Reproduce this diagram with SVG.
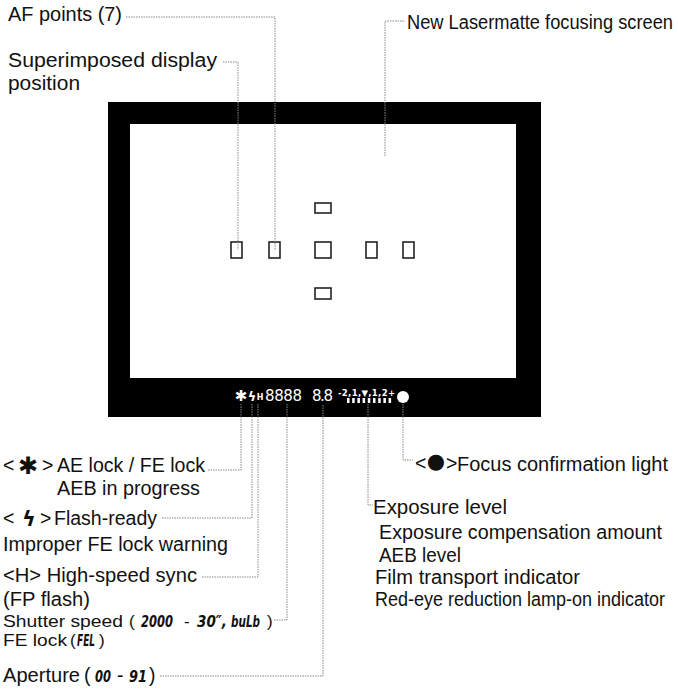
<svg xmlns="http://www.w3.org/2000/svg" width="678" height="695" viewBox="0 0 678 695">
<style>
.t{font-family:"Liberation Sans",Arial,sans-serif;font-size:19.5px;fill:#111}
.b{font-family:"Liberation Sans",Arial,sans-serif;font-size:17px;fill:#111}
.sym{font-family:"DejaVu Sans",sans-serif;fill:#111}
.lcd{font-family:"DejaVu Sans",sans-serif;font-style:italic;font-weight:bold;font-size:15px;fill:#111}
.c{fill:none;stroke:#888;stroke-width:1;stroke-dasharray:1.5 1}
.af{fill:none;stroke:#222;stroke-width:1.6}
.w{fill:#fff;font-family:"DejaVu Sans",sans-serif}
</style>
<rect width="678" height="695" fill="#fff"/>
<g id="frame">
<rect x="108" y="102" width="433" height="315" fill="#000"/>
<rect x="130" y="124" width="386" height="254" fill="#fff"/>
</g>
<g id="af-points">
<rect class="af" x="315" y="203" width="16" height="10"/>
<rect class="af" x="231" y="242" width="11" height="16"/>
<rect class="af" x="269" y="242" width="11" height="16"/>
<rect class="af" x="315" y="242" width="16" height="16"/>
<rect class="af" x="366" y="242" width="11" height="16"/>
<rect class="af" x="403" y="242" width="11" height="16"/>
<rect class="af" x="315" y="288" width="16" height="11"/>
</g>
<g id="display">
<text class="w" x="241" y="401" font-size="15" font-weight="bold" text-anchor="middle">✱</text>
<text class="w" x="252" y="401" font-size="13" font-weight="bold" text-anchor="middle">ϟ</text>
<text class="w" x="260" y="400" font-size="8" font-weight="bold" text-anchor="middle">H</text>
<text class="w" x="265" y="401" font-size="15" font-family="DejaVu Sans Mono" textLength="37">8888</text>
<text class="w" x="312" y="401" font-size="15" font-family="DejaVu Sans Mono" textLength="21">8.8</text>
<text class="w" x="338" y="396" font-size="8.5" font-weight="bold" textLength="57">-2,1,▼,1,2+</text>
<g fill="#fff">
<rect x="347" y="398" width="2.5" height="5"/><rect x="352.2" y="398" width="2.5" height="5"/><rect x="357.4" y="398" width="2.5" height="5"/><rect x="362.6" y="398" width="2.5" height="5"/><rect x="367.8" y="398" width="2.5" height="5"/><rect x="373" y="398" width="2.5" height="5"/><rect x="378.2" y="398" width="2.5" height="5"/><rect x="383.4" y="398" width="2.5" height="5"/><rect x="388.6" y="398" width="2.5" height="5"/>
</g>
<circle cx="403" cy="397" r="6" fill="#fff"/>
</g>
<g id="connectors">
<polyline class="c" points="126,17 275,17 275,250"/>
<polyline class="c" points="223,62 238,62 238,250"/>
<polyline class="c" points="404,21 385,21 385,156"/>
<polyline class="c" points="208,470 241,470 241,404"/>
<polyline class="c" points="162,518 252,518 252,404"/>
<polyline class="c" points="202,577 258,577 258,404"/>
<polyline class="c" points="274,620 287,620 287,404"/>
<polyline class="c" points="160,676 323,676 323,404"/>
<polyline class="c" points="403,404 403,460 413,460"/>
<polyline class="c" points="368,404 368,505 373,505"/>
</g>
<g id="label-af"><text class="t" x="8" y="21" textLength="114" lengthAdjust="spacingAndGlyphs">AF points (7)</text></g>
<g id="label-superimposed"><text class="t" x="8" y="67" textLength="209" lengthAdjust="spacingAndGlyphs">Superimposed display</text><text class="t" x="8" y="90" textLength="72" lengthAdjust="spacingAndGlyphs">position</text></g>
<g id="label-screen"><text class="t" x="407" y="29" textLength="266" lengthAdjust="spacingAndGlyphs">New Lasermatte focusing screen</text></g>
<g id="label-ae">
<text class="t" x="3" y="472">&lt;</text><text class="sym" x="28" y="474" font-size="24" font-weight="bold" text-anchor="middle">✱</text><text class="t" x="42" y="472">&gt;</text>
<text class="t" x="57" y="472" textLength="148" lengthAdjust="spacingAndGlyphs">AE lock / FE lock</text>
<text class="t" x="57" y="495" textLength="143" lengthAdjust="spacingAndGlyphs">AEB in progress</text>
</g>
<g id="label-flash">
<text class="t" x="3" y="525">&lt;</text><text class="sym" x="29" y="526" font-size="21" font-weight="bold" text-anchor="middle">ϟ</text><text class="t" x="40" y="525">&gt;</text>
<text class="t" x="54" y="525" textLength="103" lengthAdjust="spacingAndGlyphs">Flash-ready</text>
<text class="t" x="3" y="551" textLength="225" lengthAdjust="spacingAndGlyphs">Improper FE lock warning</text>
</g>
<g id="label-h">
<text class="t" x="3" y="582" textLength="194" lengthAdjust="spacingAndGlyphs">&lt;H&gt; High-speed sync</text>
<text class="t" x="3" y="606" textLength="87" lengthAdjust="spacingAndGlyphs">(FP flash)</text>
</g>
<g id="label-shutter">
<text class="b" x="3" y="627" textLength="120" lengthAdjust="spacingAndGlyphs">Shutter speed</text><text class="b" x="129" y="627">(</text>
<text class="lcd" x="141" y="627" textLength="32" lengthAdjust="spacingAndGlyphs">2000</text><text class="b" x="184" y="627">-</text><text class="lcd" x="197" y="627" textLength="30" lengthAdjust="spacingAndGlyphs">30″,</text><text class="lcd" x="231" y="627" textLength="29" lengthAdjust="spacingAndGlyphs">buLb</text><text class="b" x="267" y="627">)</text>
<text class="b" x="3" y="646" textLength="64" lengthAdjust="spacingAndGlyphs">FE lock</text><text class="b" x="70" y="646">(</text><text class="lcd" x="77" y="646" font-size="14" textLength="18" lengthAdjust="spacingAndGlyphs">FEL</text><text class="b" x="99" y="646">)</text>
</g>
<g id="label-aperture">
<text class="t" x="3" y="682" textLength="77" lengthAdjust="spacingAndGlyphs">Aperture</text><text class="t" x="84" y="682">(</text><text class="lcd" x="95" y="682" textLength="16" lengthAdjust="spacingAndGlyphs">00</text><text class="t" x="117" y="682">-</text><text class="lcd" x="129" y="682" textLength="18" lengthAdjust="spacingAndGlyphs">91</text><text class="t" x="149" y="682">)</text>
</g>
<g id="label-focus">
<text class="t" x="415" y="470" font-size="16">&lt;</text><text class="sym" x="436" y="468" font-size="21" text-anchor="middle">●</text><text class="t" x="446" y="470" font-size="16">&gt;</text>
<text class="t" x="457" y="471" textLength="211" lengthAdjust="spacingAndGlyphs">Focus confirmation light</text>
</g>
<g id="label-exposure">
<text class="t" x="373" y="514" textLength="134" lengthAdjust="spacingAndGlyphs">Exposure level</text>
<text class="t" x="379" y="539" textLength="283" lengthAdjust="spacingAndGlyphs">Exposure compensation amount</text>
<text class="t" x="379" y="562" textLength="82" lengthAdjust="spacingAndGlyphs">AEB level</text>
<text class="t" x="375" y="584" textLength="205" lengthAdjust="spacingAndGlyphs">Film transport indicator</text>
<text class="t" x="375" y="606" textLength="290" lengthAdjust="spacingAndGlyphs">Red-eye reduction lamp-on indicator</text>
</g>
</svg>
